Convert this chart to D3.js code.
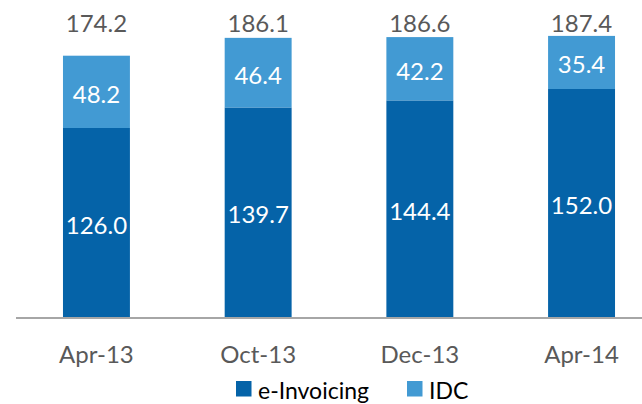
<!DOCTYPE html>
<html>
<head>
<meta charset="utf-8">
<script src="https://cdn.jsdelivr.net/npm/d3@7"></script>
<style>
  html, body { margin: 0; padding: 0; background: #fff; }
  svg { display: block; }
  text { font-family: Lato, "Open Sans", sans-serif; }
</style>
</head>
<body>
<svg id="chart" width="642" height="404"></svg>
<script>
// Revenue split per period: e-Invoicing (bottom) and IDC (top)
const categories = ["Apr-13", "Oct-13", "Dec-13", "Apr-14"];
const eInvoicing = [126.0, 139.7, 144.4, 152.0];
const idc = [48.2, 46.4, 42.2, 35.4];
const totals = [174.2, 186.1, 186.6, 187.4];
const seriesNames = ["e-Invoicing", "IDC"];
const yMax = 200;
const totalLabelLevel = 190;

const colors = { "e-Invoicing": "#0563a8", "IDC": "#429ad3" };
const textGray = "#595959";

const width = 642, height = 404;
const svg = d3.select("#chart");

const x = d3.scaleBand()
  .domain(categories)
  .range([15.6, 662.4])
  .paddingInner(0.586)
  .paddingOuter(0.293);

const y = d3.scaleLinear()
  .domain([0, yMax])
  .range([317, 17]);

const rows = categories.map((c, i) => ({
  cat: c, "e-Invoicing": eInvoicing[i], "IDC": idc[i], total: totals[i]
}));

const stacked = d3.stack().keys(seriesNames)(rows);

// stacked bars
const layers = svg.append("g").selectAll("g")
  .data(stacked)
  .join("g")
  .attr("fill", d => colors[d.key]);

layers.selectAll("rect")
  .data(d => d)
  .join("rect")
  .attr("x", d => x(d.data.cat))
  .attr("width", x.bandwidth())
  .attr("y", d => y(d[1]))
  .attr("height", d => y(d[0]) - y(d[1]));

// value labels inside each segment
layers.selectAll("text")
  .data(d => d.map(p => ({ p, key: d.key })))
  .join("text")
  .attr("x", d => x(d.p.data.cat) + x.bandwidth() / 2)
  .attr("y", d => (y(d.p[0]) + y(d.p[1])) / 2 + 11)
  .attr("text-anchor", "middle")
  .attr("fill", "#fff")
  .attr("font-size", 24)
  .text(d => d.p.data[d.key].toFixed(1));

// totals above the bars
svg.append("g").selectAll("text")
  .data(rows)
  .join("text")
  .attr("x", d => x(d.cat) + x.bandwidth() / 2)
  .attr("y", y(totalLabelLevel))
  .attr("text-anchor", "middle")
  .attr("fill", textGray)
  .attr("font-size", 24)
  .text(d => d.total.toFixed(1));

// category axis
const xAxis = svg.append("g")
  .attr("transform", `translate(0,${y(0) + 1})`)
  .call(d3.axisBottom(x).tickSize(0).tickPadding(28));
xAxis.select(".domain")
  .attr("d", `M16,0H${width}`)
  .attr("stroke", "#a6a6a6")
  .attr("stroke-width", 1.8);
xAxis.selectAll("text")
  .attr("fill", textGray)
  .attr("font-size", 24)
  .attr("font-family", "Lato, 'Open Sans', sans-serif");

// legend
const legendItems = [
  { name: "e-Invoicing", x: 236 },
  { name: "IDC", x: 407 }
];
const legend = svg.append("g").selectAll("g")
  .data(legendItems)
  .join("g")
  .attr("transform", d => `translate(${d.x},381)`);
legend.append("rect")
  .attr("width", 15.5)
  .attr("height", 15.5)
  .attr("fill", d => colors[d.name]);
legend.append("text")
  .attr("x", 22)
  .attr("y", 17.5)
  .attr("fill", "#000")
  .attr("font-size", 23)
  .text(d => d.name);
</script>
</body>
</html>
